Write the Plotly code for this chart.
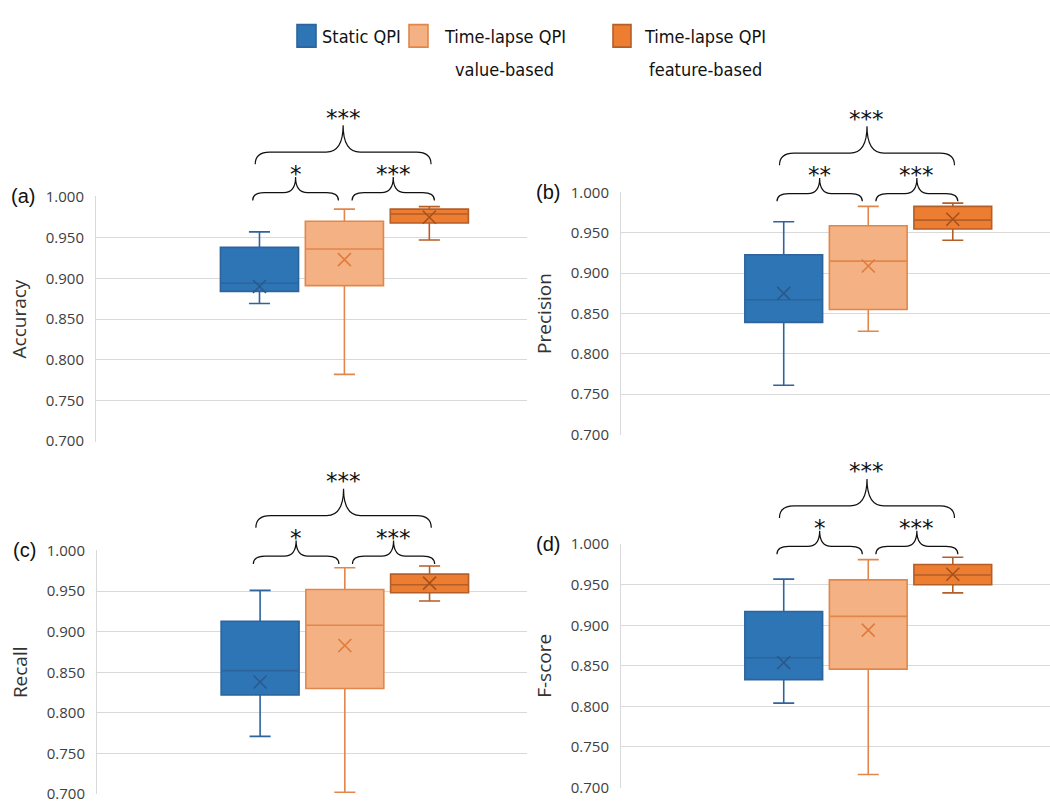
import plotly.graph_objects as go

W, H = 1050, 805

# ---------------- data ----------------
series = ["Static QPI", "Time-lapse QPI value-based", "Time-lapse QPI feature-based"]
positions = [1, 2, 3]
metrics = ["Accuracy", "Precision", "Recall", "F-score"]
panel_tags = ["(a)", "(b)", "(c)", "(d)"]

acc_upper = [0.957, 0.985, 0.988]
acc_q3 = [0.938, 0.970, 0.985]
acc_median = [0.894, 0.936, 0.979]
acc_q1 = [0.884, 0.891, 0.968]
acc_lower = [0.869, 0.782, 0.947]
acc_mean = [0.890, 0.923, 0.975]

prec_upper = [0.964, 0.983, 0.987]
prec_q3 = [0.923, 0.959, 0.983]
prec_median = [0.867, 0.915, 0.966]
prec_q1 = [0.839, 0.855, 0.955]
prec_lower = [0.761, 0.828, 0.941]
prec_mean = [0.875, 0.909, 0.967]

rec_upper = [0.951, 0.979, 0.981]
rec_q3 = [0.913, 0.952, 0.971]
rec_median = [0.852, 0.908, 0.958]
rec_q1 = [0.822, 0.830, 0.948]
rec_lower = [0.771, 0.702, 0.938]
rec_mean = [0.838, 0.883, 0.960]

f_upper = [0.957, 0.981, 0.984]
f_q3 = [0.917, 0.956, 0.975]
f_median = [0.860, 0.911, 0.962]
f_q1 = [0.833, 0.846, 0.950]
f_lower = [0.804, 0.716, 0.940]
f_mean = [0.854, 0.894, 0.963]

sig_pairs = [(1, 2), (2, 3), (1, 3)]
acc_sig = ["*", "***", "***"]
prec_sig = ["**", "***", "***"]
rec_sig = ["*", "***", "***"]
f_sig = ["*", "***", "***"]

y_ticks = [0.700, 0.750, 0.800, 0.850, 0.900, 0.950, 1.000]
y_ticktext = ["0.700", "0.750", "0.800", "0.850", "0.900", "0.950", "1.000"]

# ---------------- styles ----------------
fills = ["#2E75B6", "#F4B183", "#ED7D31"]
lines = ["#2E639B", "#E2874B", "#B45E28"]
mean_cols = ["#2A5A8C", "#E07B3C", "#A5511E"]

panel_data = [
    (acc_upper, acc_q3, acc_median, acc_q1, acc_lower, acc_mean, acc_sig),
    (prec_upper, prec_q3, prec_median, prec_q1, prec_lower, prec_mean, prec_sig),
    (rec_upper, rec_q3, rec_median, rec_q1, rec_lower, rec_mean, rec_sig),
    (f_upper, f_q3, f_median, f_q1, f_lower, f_mean, f_sig),
]

# pixel boxes of each plot area (layout)
panels = [
    dict(left=96, right=527, top=191, bottom=442, brace_end=195),
    dict(left=621, right=1050, top=186.7, bottom=435, brace_end=196),
    dict(left=97, right=527, top=553.3, bottom=803.3, brace_end=567.3),
    dict(left=621, right=1050, top=546.7, bottom=796.7, brace_end=557.3),
]
XR = [-0.925, 4.15]
TITLE_PAD = "\u00a0" * 6   # nudges the rotated title slightly below the axis centre

def xp(px):
    return px / W

def yp(py):
    return 1 - py / H

fig = go.Figure()
shapes = []
annotations = []
layout = {}

TICKFONT = dict(family="Open Sans", size=15, color="#404040")
TITLEFONT = dict(family="Open Sans", size=19, color="#333333")

for k in range(4):
    up, q3, med, q1, lo, mn, sig = panel_data[k]
    P = panels[k]
    sx = "" if k == 0 else str(k + 1)
    xa, ya = "x" + sx, "y" + sx
    for s in range(3):
        fig.add_trace(go.Box(
            x=[positions[s]], q1=[q1[s]], median=[med[s]], q3=[q3[s]],
            lowerfence=[lo[s]], upperfence=[up[s]], orientation="v",
            fillcolor=fills[s], line=dict(color=lines[s], width=1.6),
            width=0.92, whiskerwidth=0.27, boxpoints=False,
            name=series[s], showlegend=False, xaxis=xa, yaxis=ya,
        ))
    fig.add_trace(go.Scatter(
        x=positions, y=mn, mode="markers", showlegend=False,
        marker=dict(symbol="x-thin", size=13, color=mean_cols,
                    line=dict(color=mean_cols, width=1.6)),
        xaxis=xa, yaxis=ya, hoverinfo="skip",
    ))
    layout["xaxis" + sx] = dict(
        domain=[xp(P["left"]), xp(P["right"])], range=XR, anchor=ya,
        showticklabels=False, showgrid=False, zeroline=False, showline=False,
        fixedrange=True,
    )
    layout["yaxis" + sx] = dict(
        domain=[yp(P["bottom"]), yp(P["top"])], range=[0.6995, 1.0005], anchor=xa,
        tickvals=y_ticks, ticktext=y_ticktext, tickfont=TICKFONT,
        showgrid=True, gridcolor="#D9D9D9", gridwidth=1,
        showline=True, linecolor="#D9D9D9", linewidth=1,
        zeroline=False, ticks="", ticklabelstandoff=8,
        title=dict(text=metrics[k] + TITLE_PAD, font=TITLEFONT, standoff=14),
        fixedrange=True,
    )
    # panel tag
    annotations.append(dict(
        text=panel_tags[k], xref="paper", yref="paper",
        x=xp(P["left"] - 59), y=yp(P["top"]), xanchor="right", yanchor="middle",
        showarrow=False, font=dict(family="Liberation Sans", size=20, color="#111111"),
    ))
    # significance braces
    end = P["brace_end"]
    offs = {(1, 2): (-0.08, -0.07), (2, 3): (0.09, 0.06), (1, 3): (-0.05, 0.02)}
    for (i, j), stars in zip(sig_pairs, sig):
        big = (j - i) > 1
        if big:
            yb, ym, yt, ys = end - 37, end - 49.5, end - 77, end - 90
            rxe, rxt = 0.17, 0.2
        else:
            yb, ym, yt, ys = end - 0, end - 8, end - 24, end - 32
            rxe, rxt = 0.14, 0.14
        o0, o1 = offs[(i, j)]
        x0 = positions[i - 1] + o0
        x1 = positions[j - 1] + o1
        xc = (x0 + x1) / 2
        Yb, Ym, Yt = yp(yb), yp(ym), yp(yt)
        path = (f"M {x0},{Yb} Q {x0},{Ym} {x0 + rxe},{Ym} L {xc - rxt},{Ym} "
                f"Q {xc},{Ym} {xc},{Yt} Q {xc},{Ym} {xc + rxt},{Ym} "
                f"L {x1 - rxe},{Ym} Q {x1},{Ym} {x1},{Yb}")
        shapes.append(dict(type="path", path=path, xref=xa, yref="paper",
                           line=dict(color="#111111", width=1.2)))
        annotations.append(dict(
            text=stars, xref=xa, yref="paper", x=xc, y=yp(ys + 0.23 * 23),
            xanchor="center", yanchor="middle", showarrow=False,
            font=dict(family="DejaVu Sans", size=23, color="#111111"),
        ))

# ---------------- legend (drawn) ----------------
LEGFONT = dict(family="DejaVu Sans Condensed, Liberation Sans", size=18, color="#111111")
leg_sq = [(297, 316), (409, 428), (613, 631)]
leg_lines = [
    [("Static QPI", 320, 27)],
    [("Time-lapse QPI", 442, 27), ("value-based", 453, 61)],
    [("Time-lapse QPI", 642, 27), ("feature-based", 647, 61)],
]
for s in range(3):
    a, b = leg_sq[s]
    shapes.append(dict(type="rect", xref="paper", yref="paper",
                       x0=xp(a), x1=xp(b), y0=yp(38), y1=yp(15),
                       fillcolor=fills[s], line=dict(color=lines[s], width=1.6)))
    for txt, lx, ly in leg_lines[s]:
        annotations.append(dict(text=txt, xref="paper", yref="paper", x=xp(lx), y=yp(ly),
                                xanchor="left", yanchor="middle", showarrow=False,
                                font=LEGFONT))

fig.update_layout(
    width=W, height=H, margin=dict(l=0, r=0, t=0, b=0),
    paper_bgcolor="white", plot_bgcolor="white",
    showlegend=False, shapes=shapes, annotations=annotations,
    **layout,
)

fig.write_html("out.html")
